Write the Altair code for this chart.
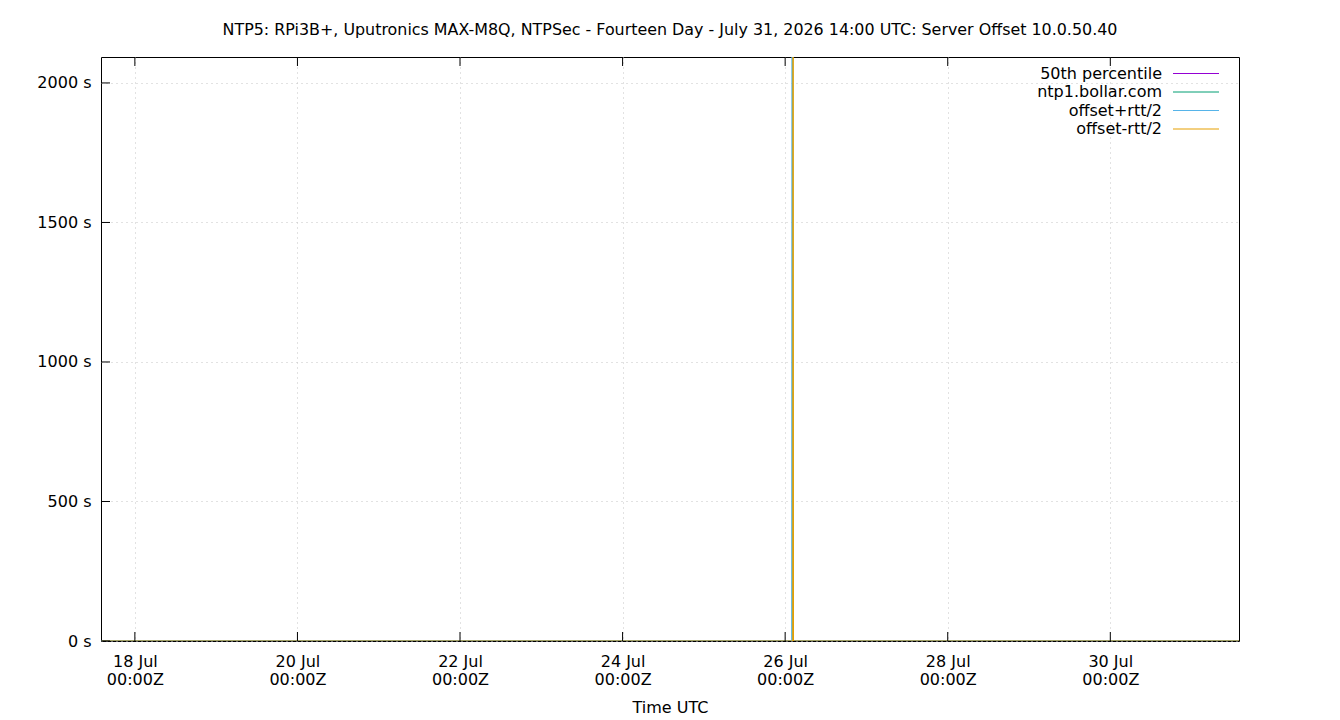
import altair as alt
import pandas as pd

# ---- data ----
TITLE = "NTP5: RPi3B+, Uputronics MAX-M8Q, NTPSec - Fourteen Day - July 31, 2026 14:00 UTC: Server Offset 10.0.50.40"
x_start = "2026-07-17T14:00:00Z"
x_end = "2026-07-31T14:00:00Z"

times = ["2026-07-17T14:00:00Z", "2026-07-19T06:00:00Z", "2026-07-21T18:00:00Z",
         "2026-07-24T03:00:00Z", "2026-07-26T02:05:00Z", "2026-07-26T02:12:00Z",
         "2026-07-26T02:19:00Z", "2026-07-28T09:00:00Z", "2026-07-30T12:00:00Z",
         "2026-07-31T14:00:00Z"]
offset = [0.000002, -0.000003, 0.000001, 0.000004, -0.000002, 2650.0,
          0.000003, -0.000001, 0.000002, 0.000001]
offset_plus = [0.00041, 0.00043, 0.00040, 0.00042, 0.00041, 2662.0,
               0.00042, 0.00040, 0.00041, 0.00042]
offset_minus = [-0.00041, -0.00043, -0.00040, -0.00042, -0.00041, 2638.0,
                -0.00042, -0.00040, -0.00041, -0.00042]
p50_times = ["2026-07-17T14:00:00Z", "2026-07-31T14:00:00Z"]
p50_vals = [0.000001, 0.000001]

series_names = ["50th percentile", "ntp1.bollar.com", "offset+rtt/2", "offset-rtt/2"]
series_colors = ["#9400d3", "#009e73", "#56b4e9", "#e69f00"]

x_tick_days = ["2026-07-18T00:00:00Z", "2026-07-20T00:00:00Z", "2026-07-22T00:00:00Z",
               "2026-07-24T00:00:00Z", "2026-07-26T00:00:00Z", "2026-07-28T00:00:00Z",
               "2026-07-30T00:00:00Z"]
y_ticks = [0, 500, 1000, 1500, 2000]
y_max = 2093

# ---- layout constants ----
W, H = 1138, 584
FONT = "DejaVu Sans"
FS = 16


def ms(s):
    return int(pd.Timestamp(s).value // 10**6)


xdom = [ms(x_start), ms(x_end)]
xtick_ms = [ms(t) for t in x_tick_days]

color_scale = alt.Scale(domain=series_names, range=series_colors)
xscale = alt.Scale(type="utc", domain=xdom)
yscale = alt.Scale(domain=[0, y_max], nice=False, zero=False)

GRID = dict(grid=True, gridDash=[1, 4], gridColor="#c4c4c4", gridWidth=1)

xaxis = alt.Axis(
    values=xtick_ms,
    labelExpr="[utcFormat(datum.value, '%d %b'), utcFormat(datum.value, '%H:%MZ')]",
    ticks=False, domain=False, labelPadding=12, labelLineHeight=18,
    labelFont=FONT, labelFontSize=FS, labelColor="black",
    title="Time UTC", titleFont=FONT, titleFontSize=FS, titleFontWeight="normal",
    titleColor="black", titlePadding=12, labelFlush=False, labelOverlap=False,
    **GRID,
)
yaxis = alt.Axis(
    values=y_ticks, labelExpr="datum.value + ' s'",
    ticks=False, domain=False, labelPadding=10,
    labelFont=FONT, labelFontSize=FS, labelColor="black", title=None,
    **GRID,
)

df_p50 = pd.DataFrame({"time": p50_times, "value": p50_vals, "series": series_names[0]})
df_off = pd.DataFrame({"time": times, "value": offset, "series": series_names[1]})
df_plus = pd.DataFrame({"time": times, "value": offset_plus, "series": series_names[2]})
df_minus = pd.DataFrame({"time": times, "value": offset_minus, "series": series_names[3]})

X = alt.X("time:T", scale=xscale, axis=xaxis)


def line_layer(df, with_axes=False, dx=0):
    return alt.Chart(df).mark_line(clip=True, strokeWidth=1, xOffset=dx).encode(
        x=X,
        y=alt.Y("value:Q", scale=yscale, axis=yaxis if with_axes else None),
        color=alt.Color("series:N", scale=color_scale, legend=None),
    )


layers = [line_layer(df_p50, True), line_layer(df_off), line_layer(df_plus, dx=-0.5),
          line_layer(df_minus, dx=0.5)]

# inward tick marks (bottom and top mirrored, left)
df_xt = pd.DataFrame({"time": x_tick_days})
bottom_ticks = alt.Chart(df_xt).mark_rule(color="black", strokeWidth=1).encode(
    x=X, y=alt.value(H), y2=alt.value(H - 9))
top_ticks = alt.Chart(df_xt).mark_rule(color="black", strokeWidth=1).encode(
    x=X, y=alt.value(0), y2=alt.value(9))
df_yt = pd.DataFrame({"value": y_ticks})
left_ticks = alt.Chart(df_yt).mark_rule(color="black", strokeWidth=1).encode(
    y=alt.Y("value:Q", scale=yscale, axis=None),
    x=alt.value(0), x2=alt.value(9))

# custom legend: labels on the left, line samples on the right
df_leg = pd.DataFrame({"series": series_names, "row": list(range(len(series_names)))})
leg_y = alt.Y("row:Q", scale=alt.Scale(domain=[0, 3], range=[16.5, 72]), axis=None)
leg_text = alt.Chart(df_leg).mark_text(
    align="right", baseline="middle", font=FONT, fontSize=FS, color="black"
).encode(x=alt.value(1061), y=leg_y, text="series:N")
leg_line = alt.Chart(df_leg).mark_rule(strokeWidth=1).encode(
    x=alt.value(1072), x2=alt.value(1118), y=leg_y,
    color=alt.Color("series:N", scale=color_scale, legend=None))

chart = alt.layer(
    *layers, bottom_ticks, top_ticks, left_ticks, leg_text, leg_line
).resolve_scale(y="independent").properties(
    width=W, height=H, background="white",
    title=alt.TitleParams(TITLE, font=FONT, fontSize=15.9, fontWeight="normal",
                          color="black", anchor="middle", offset=19),
    autosize=alt.AutoSizeParams(type="none"),
    padding={"left": 93, "top": 49, "right": 93, "bottom": 76},
).configure_view(stroke="black", strokeWidth=1)

chart.save("out.html", embed_options={"renderer": "svg", "actions": False})
